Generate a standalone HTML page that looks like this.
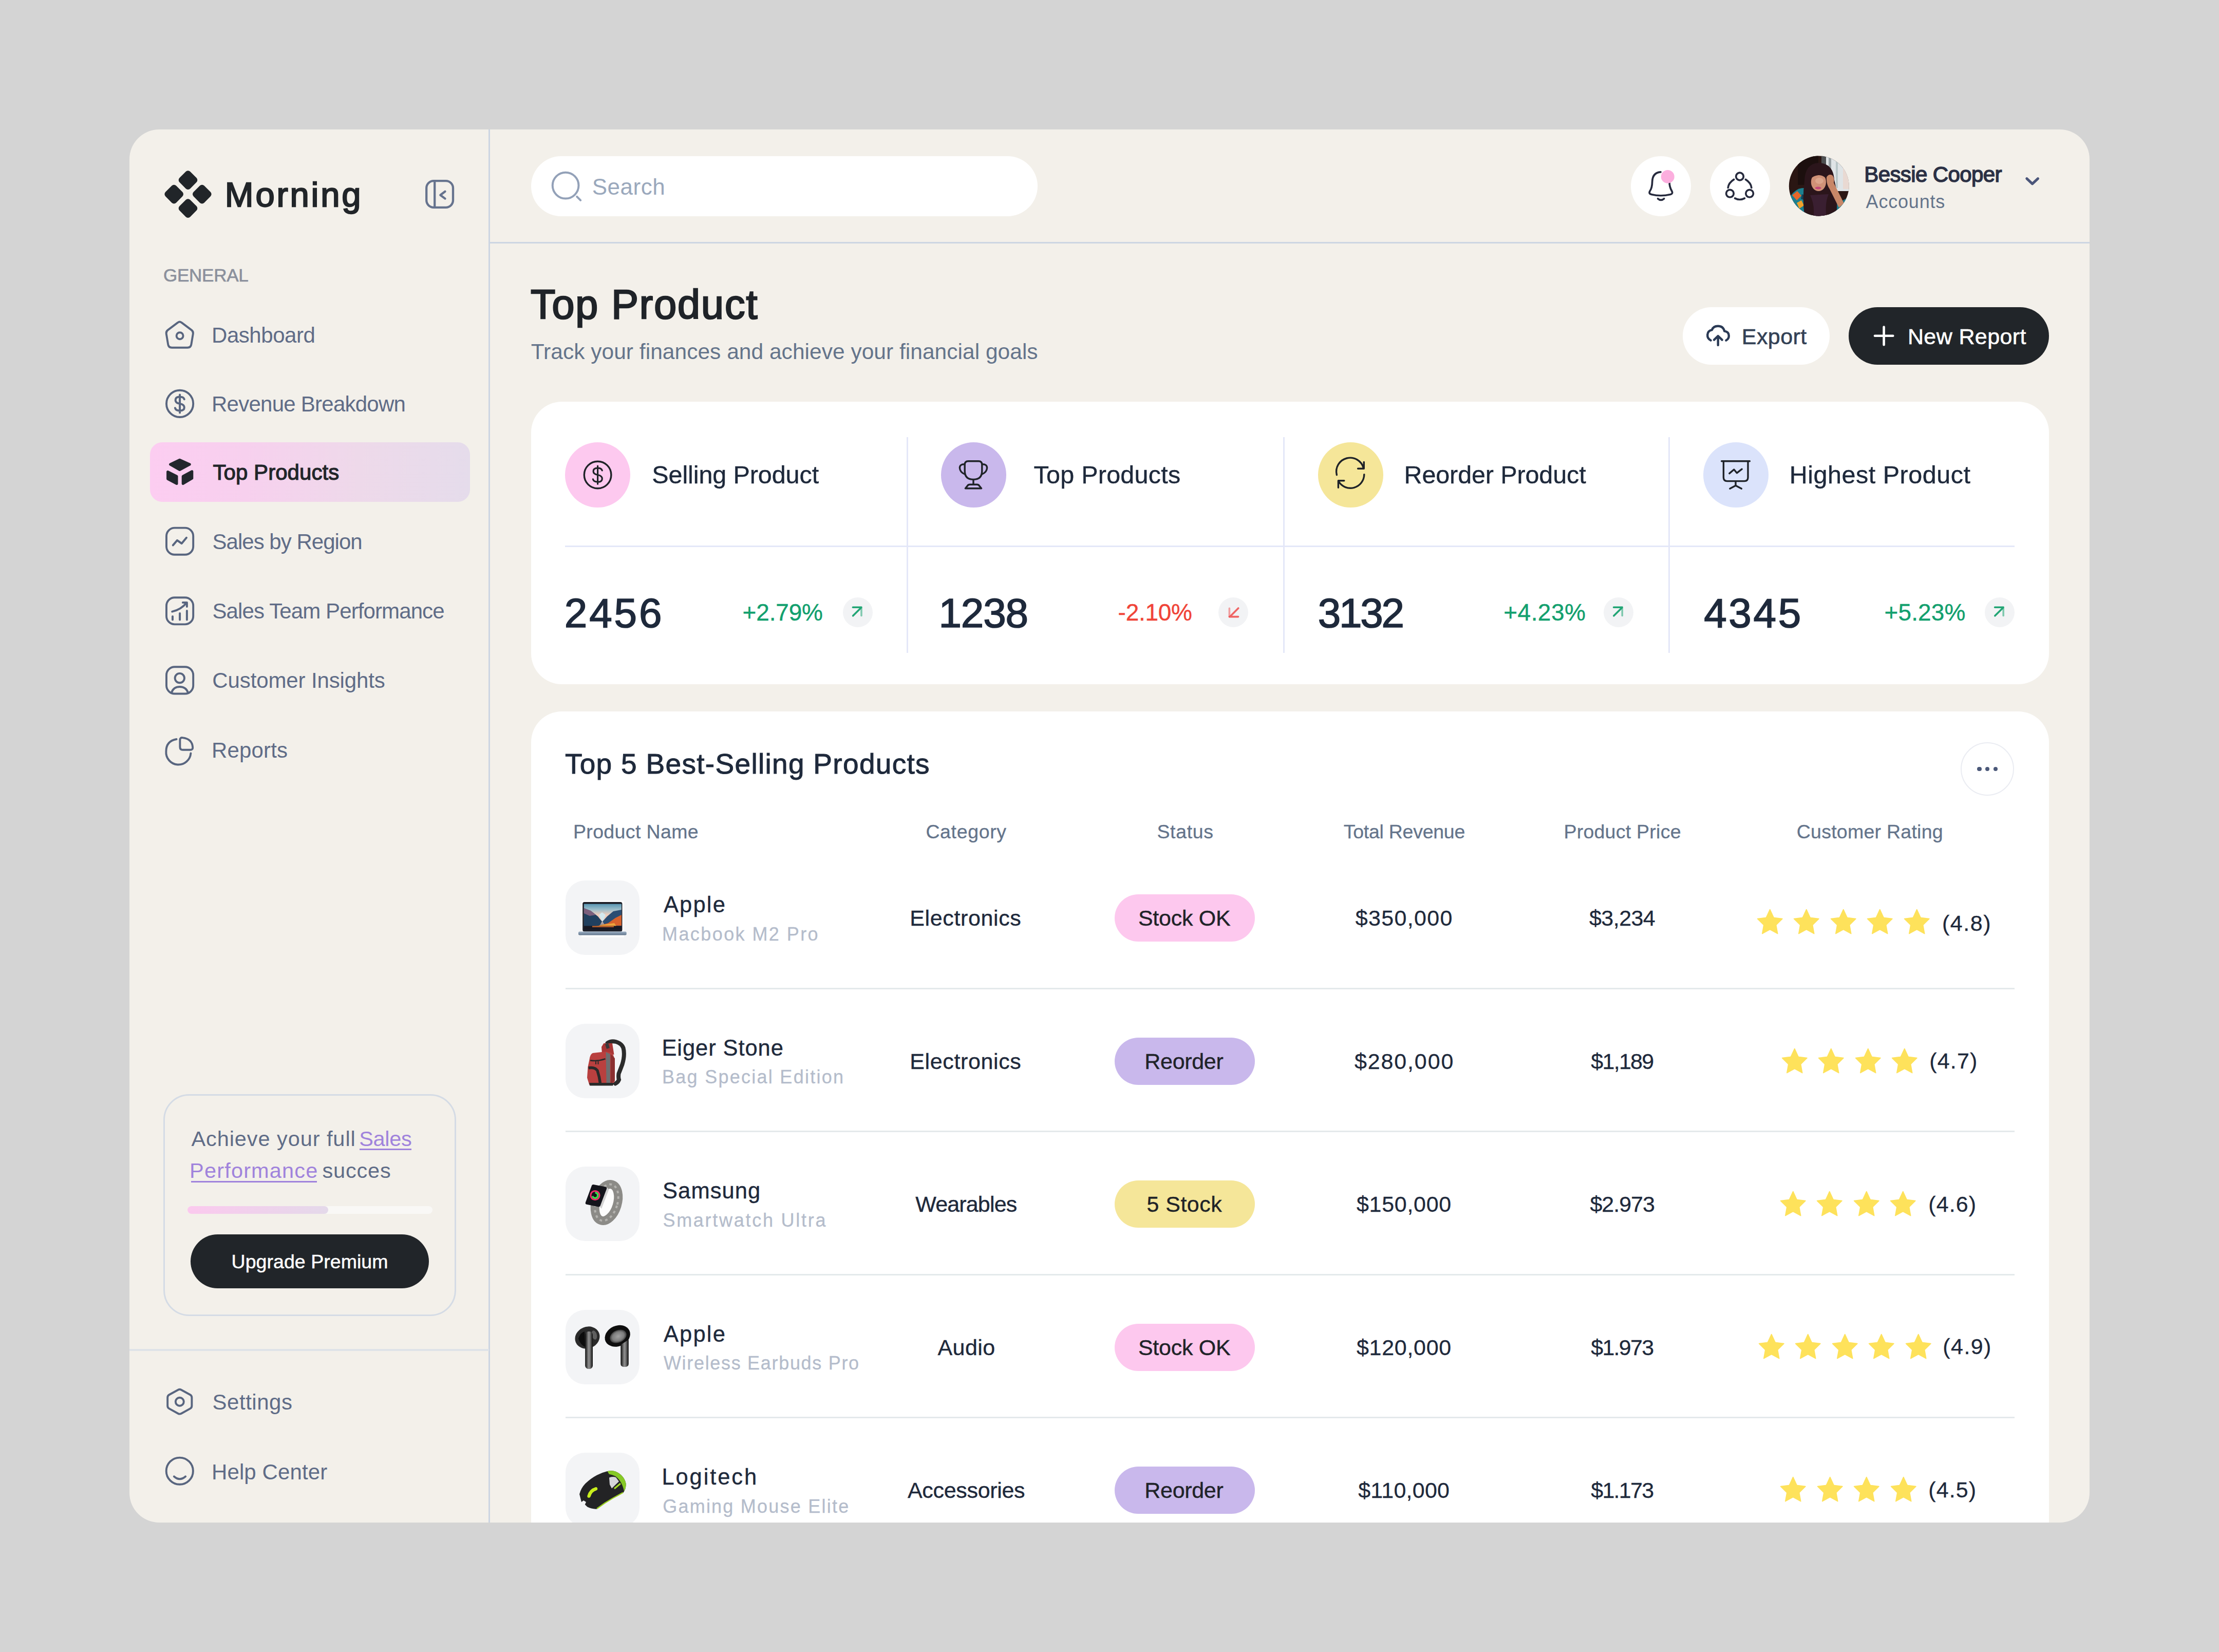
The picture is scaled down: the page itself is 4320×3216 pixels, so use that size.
<!DOCTYPE html>
<html><head><meta charset="utf-8"><title>Morning – Top Product</title>
<style>
html,body{margin:0;padding:0}
body{width:4320px;height:3216px;background:#d4d4d4;position:relative;overflow:hidden;font-family:"Liberation Sans",sans-serif}
.card{position:absolute;left:252px;top:252px;width:3816px;height:2712px;border-radius:58px;background:#f3f0ea;overflow:hidden}
.in{position:absolute;left:-252px;top:-252px;width:4320px;height:3216px}
.t{position:absolute;white-space:nowrap;line-height:1}
.a{position:absolute}
svg{position:absolute;overflow:visible}
</style></head><body>
<div class="card"><div class="in">
<div class="a" style="left:950.5px;top:252.0px;width:3.5px;height:2712.0px;background:#ccd5e2;"></div>
<div class="a" style="left:954.0px;top:470.5px;width:3114.0px;height:3.5px;background:#ccd5e2;"></div>
<div class="a" style="left:252.0px;top:2626.0px;width:700.0px;height:4.0px;background:#dfe3e8;"></div>
<div class="a" style="left:292.0px;top:861.0px;width:623.0px;height:116.0px;background:linear-gradient(90deg,#fccdf1 0%,#f7d0ee 30%,#eed9ea 65%,#e5dceb 100%);border-radius:24px;"></div>
<div class="a" style="left:318px;top:2129.5px;width:564px;height:426.5px;border:3px solid #d4dbe5;border-radius:50px"></div>
<div class="a" style="left:364.5px;top:2348.0px;width:477.2px;height:14.5px;background:#f9f8f6;border-radius:7.5px;"></div>
<div class="a" style="left:364.5px;top:2348.0px;width:274.9px;height:14.5px;background:linear-gradient(90deg,#fbc9ee,#e4d9ea);border-radius:7.5px;"></div>
<div class="a" style="left:371.4px;top:2403.2px;width:463.4px;height:105.3px;background:#212529;border-radius:53px;"></div>
<div class="a" style="left:700.0px;top:2236.0px;width:101.0px;height:2.6px;background:#a083dc;"></div>
<div class="a" style="left:371.5px;top:2299.0px;width:245.5px;height:2.6px;background:#a083dc;"></div>
<div class="a" style="left:1033.6px;top:303.8px;width:986.4px;height:117.4px;background:#fff;border-radius:59px;"></div>
<div class="a" style="left:3174.5px;top:304.1px;width:117.0px;height:117.0px;background:#fff;border-radius:58.5px;"></div>
<div class="a" style="left:3328.5px;top:304.1px;width:117.0px;height:117.0px;background:#fff;border-radius:58.5px;"></div>
<div class="a" style="left:3275.8px;top:598.3px;width:286.2px;height:111.3px;background:#fff;border-radius:56px;"></div>
<div class="a" style="left:3599.3px;top:598.3px;width:389.4px;height:111.3px;background:#212529;border-radius:56px;"></div>
<div class="a" style="left:1033.5px;top:781.6px;width:2955.1px;height:550.6px;background:#fff;border-radius:60px;"></div>
<div class="a" style="left:1100.1px;top:861.2px;width:127.0px;height:127.0px;background:#fdc9ef;border-radius:63.5px;"></div>
<div class="a" style="left:1831.5px;top:861.2px;width:127.0px;height:127.0px;background:#c9b8ec;border-radius:63.5px;"></div>
<div class="a" style="left:2565.8px;top:861.2px;width:127.0px;height:127.0px;background:#f5e699;border-radius:63.5px;"></div>
<div class="a" style="left:3315.8px;top:861.2px;width:127.0px;height:127.0px;background:#dbe3fb;border-radius:63.5px;"></div>
<div class="a" style="left:1764.9px;top:850.9px;width:3.0px;height:420.2px;background:#e4e7f8;"></div>
<div class="a" style="left:2497.9px;top:850.9px;width:3.0px;height:420.2px;background:#e4e7f8;"></div>
<div class="a" style="left:3247.7px;top:850.9px;width:3.0px;height:420.2px;background:#e4e7f8;"></div>
<div class="a" style="left:1100.0px;top:1061.9px;width:2822.0px;height:3.0px;background:#e4e7f8;"></div>
<div class="a" style="left:1640.8px;top:1163.0px;width:58.0px;height:58.0px;background:#f2f3f5;border-radius:29.0px;"></div>
<div class="a" style="left:2372.2px;top:1163.0px;width:58.0px;height:58.0px;background:#f2f3f5;border-radius:29.0px;"></div>
<div class="a" style="left:3122.0px;top:1163.0px;width:58.0px;height:58.0px;background:#f2f3f5;border-radius:29.0px;"></div>
<div class="a" style="left:3864.0px;top:1163.0px;width:58.0px;height:58.0px;background:#f2f3f5;border-radius:29.0px;"></div>
<div class="a" style="left:1033.5px;top:1384.5px;width:2955.2px;height:1715.5px;background:#fff;border-radius:60px;"></div>
<div class="a" style="left:3816.5px;top:1444.6px;width:100px;height:100px;border:2.5px solid #eaecf2;border-radius:60px"></div>
<div class="a" style="left:3849.2px;top:1492.5px;width:8.6px;height:8.6px;background:#4b5878;border-radius:4.3px;"></div>
<div class="a" style="left:3864.9px;top:1492.5px;width:8.6px;height:8.6px;background:#4b5878;border-radius:4.3px;"></div>
<div class="a" style="left:3880.7px;top:1492.5px;width:8.6px;height:8.6px;background:#4b5878;border-radius:4.3px;"></div>
<div class="a" style="left:1101.1px;top:1714.3px;width:143.8px;height:144.9px;background:#f3f4f6;border-radius:38px;"></div>
<div class="a" style="left:2170.3px;top:1741.3px;width:273.1px;height:91.9px;background:#fdc8ee;border-radius:46px;"></div>
<div class="a" style="left:1101.0px;top:1922.8px;width:2820.5px;height:3.0px;background:#e4e9eb;"></div>
<div class="a" style="left:1101.1px;top:1992.8px;width:143.8px;height:144.9px;background:#f3f4f6;border-radius:38px;"></div>
<div class="a" style="left:2170.3px;top:2019.8px;width:273.1px;height:91.9px;background:#c9b8ec;border-radius:46px;"></div>
<div class="a" style="left:1101.0px;top:2201.3px;width:2820.5px;height:3.0px;background:#e4e9eb;"></div>
<div class="a" style="left:1101.1px;top:2271.3px;width:143.8px;height:144.9px;background:#f3f4f6;border-radius:38px;"></div>
<div class="a" style="left:2170.3px;top:2298.3px;width:273.1px;height:91.9px;background:#f5e699;border-radius:46px;"></div>
<div class="a" style="left:1101.0px;top:2479.8px;width:2820.5px;height:3.0px;background:#e4e9eb;"></div>
<div class="a" style="left:1101.1px;top:2549.8px;width:143.8px;height:144.9px;background:#f3f4f6;border-radius:38px;"></div>
<div class="a" style="left:2170.3px;top:2576.8px;width:273.1px;height:91.9px;background:#fdc8ee;border-radius:46px;"></div>
<div class="a" style="left:1101.0px;top:2758.3px;width:2820.5px;height:3.0px;background:#e4e9eb;"></div>
<div class="a" style="left:1101.1px;top:2828.3px;width:143.8px;height:144.9px;background:#f3f4f6;border-radius:38px;"></div>
<div class="a" style="left:2170.3px;top:2855.3px;width:273.1px;height:91.9px;background:#c9b8ec;border-radius:46px;"></div>
<svg style="left:3420.9px;top:1770.4px" width="49.5" height="48" viewBox="1 1.3 22 21.9"><path d="M12 1.6 L15.1 8.3 Q15.3 8.8 15.9 8.9 L23 9.8 L17.8 14.9 Q17.4 15.3 17.5 15.8 L18.8 23 L12.5 19.5 Q12 19.2 11.5 19.5 L5.2 23 L6.5 15.8 Q6.6 15.3 6.2 14.9 L1 9.8 L8.1 8.9 Q8.7 8.8 8.9 8.3 Z" fill="#fee25b" stroke="#fee25b" stroke-width="0.8" stroke-linejoin="round"/></svg>
<svg style="left:3492.4px;top:1770.4px" width="49.5" height="48" viewBox="1 1.3 22 21.9"><path d="M12 1.6 L15.1 8.3 Q15.3 8.8 15.9 8.9 L23 9.8 L17.8 14.9 Q17.4 15.3 17.5 15.8 L18.8 23 L12.5 19.5 Q12 19.2 11.5 19.5 L5.2 23 L6.5 15.8 Q6.6 15.3 6.2 14.9 L1 9.8 L8.1 8.9 Q8.7 8.8 8.9 8.3 Z" fill="#fee25b" stroke="#fee25b" stroke-width="0.8" stroke-linejoin="round"/></svg>
<svg style="left:3563.9px;top:1770.4px" width="49.5" height="48" viewBox="1 1.3 22 21.9"><path d="M12 1.6 L15.1 8.3 Q15.3 8.8 15.9 8.9 L23 9.8 L17.8 14.9 Q17.4 15.3 17.5 15.8 L18.8 23 L12.5 19.5 Q12 19.2 11.5 19.5 L5.2 23 L6.5 15.8 Q6.6 15.3 6.2 14.9 L1 9.8 L8.1 8.9 Q8.7 8.8 8.9 8.3 Z" fill="#fee25b" stroke="#fee25b" stroke-width="0.8" stroke-linejoin="round"/></svg>
<svg style="left:3635.4px;top:1770.4px" width="49.5" height="48" viewBox="1 1.3 22 21.9"><path d="M12 1.6 L15.1 8.3 Q15.3 8.8 15.9 8.9 L23 9.8 L17.8 14.9 Q17.4 15.3 17.5 15.8 L18.8 23 L12.5 19.5 Q12 19.2 11.5 19.5 L5.2 23 L6.5 15.8 Q6.6 15.3 6.2 14.9 L1 9.8 L8.1 8.9 Q8.7 8.8 8.9 8.3 Z" fill="#fee25b" stroke="#fee25b" stroke-width="0.8" stroke-linejoin="round"/></svg>
<svg style="left:3706.9px;top:1770.4px" width="49.5" height="48" viewBox="1 1.3 22 21.9"><path d="M12 1.6 L15.1 8.3 Q15.3 8.8 15.9 8.9 L23 9.8 L17.8 14.9 Q17.4 15.3 17.5 15.8 L18.8 23 L12.5 19.5 Q12 19.2 11.5 19.5 L5.2 23 L6.5 15.8 Q6.6 15.3 6.2 14.9 L1 9.8 L8.1 8.9 Q8.7 8.8 8.9 8.3 Z" fill="#fee25b" stroke="#fee25b" stroke-width="0.8" stroke-linejoin="round"/></svg>
<svg style="left:3468.6px;top:2040.6px" width="49.5" height="48" viewBox="1 1.3 22 21.9"><path d="M12 1.6 L15.1 8.3 Q15.3 8.8 15.9 8.9 L23 9.8 L17.8 14.9 Q17.4 15.3 17.5 15.8 L18.8 23 L12.5 19.5 Q12 19.2 11.5 19.5 L5.2 23 L6.5 15.8 Q6.6 15.3 6.2 14.9 L1 9.8 L8.1 8.9 Q8.7 8.8 8.9 8.3 Z" fill="#fee25b" stroke="#fee25b" stroke-width="0.8" stroke-linejoin="round"/></svg>
<svg style="left:3540.1px;top:2040.6px" width="49.5" height="48" viewBox="1 1.3 22 21.9"><path d="M12 1.6 L15.1 8.3 Q15.3 8.8 15.9 8.9 L23 9.8 L17.8 14.9 Q17.4 15.3 17.5 15.8 L18.8 23 L12.5 19.5 Q12 19.2 11.5 19.5 L5.2 23 L6.5 15.8 Q6.6 15.3 6.2 14.9 L1 9.8 L8.1 8.9 Q8.7 8.8 8.9 8.3 Z" fill="#fee25b" stroke="#fee25b" stroke-width="0.8" stroke-linejoin="round"/></svg>
<svg style="left:3611.6px;top:2040.6px" width="49.5" height="48" viewBox="1 1.3 22 21.9"><path d="M12 1.6 L15.1 8.3 Q15.3 8.8 15.9 8.9 L23 9.8 L17.8 14.9 Q17.4 15.3 17.5 15.8 L18.8 23 L12.5 19.5 Q12 19.2 11.5 19.5 L5.2 23 L6.5 15.8 Q6.6 15.3 6.2 14.9 L1 9.8 L8.1 8.9 Q8.7 8.8 8.9 8.3 Z" fill="#fee25b" stroke="#fee25b" stroke-width="0.8" stroke-linejoin="round"/></svg>
<svg style="left:3683.1px;top:2040.6px" width="49.5" height="48" viewBox="1 1.3 22 21.9"><path d="M12 1.6 L15.1 8.3 Q15.3 8.8 15.9 8.9 L23 9.8 L17.8 14.9 Q17.4 15.3 17.5 15.8 L18.8 23 L12.5 19.5 Q12 19.2 11.5 19.5 L5.2 23 L6.5 15.8 Q6.6 15.3 6.2 14.9 L1 9.8 L8.1 8.9 Q8.7 8.8 8.9 8.3 Z" fill="#fee25b" stroke="#fee25b" stroke-width="0.8" stroke-linejoin="round"/></svg>
<svg style="left:3465.9px;top:2319.1px" width="49.5" height="48" viewBox="1 1.3 22 21.9"><path d="M12 1.6 L15.1 8.3 Q15.3 8.8 15.9 8.9 L23 9.8 L17.8 14.9 Q17.4 15.3 17.5 15.8 L18.8 23 L12.5 19.5 Q12 19.2 11.5 19.5 L5.2 23 L6.5 15.8 Q6.6 15.3 6.2 14.9 L1 9.8 L8.1 8.9 Q8.7 8.8 8.9 8.3 Z" fill="#fee25b" stroke="#fee25b" stroke-width="0.8" stroke-linejoin="round"/></svg>
<svg style="left:3537.4px;top:2319.1px" width="49.5" height="48" viewBox="1 1.3 22 21.9"><path d="M12 1.6 L15.1 8.3 Q15.3 8.8 15.9 8.9 L23 9.8 L17.8 14.9 Q17.4 15.3 17.5 15.8 L18.8 23 L12.5 19.5 Q12 19.2 11.5 19.5 L5.2 23 L6.5 15.8 Q6.6 15.3 6.2 14.9 L1 9.8 L8.1 8.9 Q8.7 8.8 8.9 8.3 Z" fill="#fee25b" stroke="#fee25b" stroke-width="0.8" stroke-linejoin="round"/></svg>
<svg style="left:3608.9px;top:2319.1px" width="49.5" height="48" viewBox="1 1.3 22 21.9"><path d="M12 1.6 L15.1 8.3 Q15.3 8.8 15.9 8.9 L23 9.8 L17.8 14.9 Q17.4 15.3 17.5 15.8 L18.8 23 L12.5 19.5 Q12 19.2 11.5 19.5 L5.2 23 L6.5 15.8 Q6.6 15.3 6.2 14.9 L1 9.8 L8.1 8.9 Q8.7 8.8 8.9 8.3 Z" fill="#fee25b" stroke="#fee25b" stroke-width="0.8" stroke-linejoin="round"/></svg>
<svg style="left:3680.4px;top:2319.1px" width="49.5" height="48" viewBox="1 1.3 22 21.9"><path d="M12 1.6 L15.1 8.3 Q15.3 8.8 15.9 8.9 L23 9.8 L17.8 14.9 Q17.4 15.3 17.5 15.8 L18.8 23 L12.5 19.5 Q12 19.2 11.5 19.5 L5.2 23 L6.5 15.8 Q6.6 15.3 6.2 14.9 L1 9.8 L8.1 8.9 Q8.7 8.8 8.9 8.3 Z" fill="#fee25b" stroke="#fee25b" stroke-width="0.8" stroke-linejoin="round"/></svg>
<svg style="left:3423.6px;top:2597.0px" width="49.5" height="48" viewBox="1 1.3 22 21.9"><path d="M12 1.6 L15.1 8.3 Q15.3 8.8 15.9 8.9 L23 9.8 L17.8 14.9 Q17.4 15.3 17.5 15.8 L18.8 23 L12.5 19.5 Q12 19.2 11.5 19.5 L5.2 23 L6.5 15.8 Q6.6 15.3 6.2 14.9 L1 9.8 L8.1 8.9 Q8.7 8.8 8.9 8.3 Z" fill="#fee25b" stroke="#fee25b" stroke-width="0.8" stroke-linejoin="round"/></svg>
<svg style="left:3495.1px;top:2597.0px" width="49.5" height="48" viewBox="1 1.3 22 21.9"><path d="M12 1.6 L15.1 8.3 Q15.3 8.8 15.9 8.9 L23 9.8 L17.8 14.9 Q17.4 15.3 17.5 15.8 L18.8 23 L12.5 19.5 Q12 19.2 11.5 19.5 L5.2 23 L6.5 15.8 Q6.6 15.3 6.2 14.9 L1 9.8 L8.1 8.9 Q8.7 8.8 8.9 8.3 Z" fill="#fee25b" stroke="#fee25b" stroke-width="0.8" stroke-linejoin="round"/></svg>
<svg style="left:3566.6px;top:2597.0px" width="49.5" height="48" viewBox="1 1.3 22 21.9"><path d="M12 1.6 L15.1 8.3 Q15.3 8.8 15.9 8.9 L23 9.8 L17.8 14.9 Q17.4 15.3 17.5 15.8 L18.8 23 L12.5 19.5 Q12 19.2 11.5 19.5 L5.2 23 L6.5 15.8 Q6.6 15.3 6.2 14.9 L1 9.8 L8.1 8.9 Q8.7 8.8 8.9 8.3 Z" fill="#fee25b" stroke="#fee25b" stroke-width="0.8" stroke-linejoin="round"/></svg>
<svg style="left:3638.1px;top:2597.0px" width="49.5" height="48" viewBox="1 1.3 22 21.9"><path d="M12 1.6 L15.1 8.3 Q15.3 8.8 15.9 8.9 L23 9.8 L17.8 14.9 Q17.4 15.3 17.5 15.8 L18.8 23 L12.5 19.5 Q12 19.2 11.5 19.5 L5.2 23 L6.5 15.8 Q6.6 15.3 6.2 14.9 L1 9.8 L8.1 8.9 Q8.7 8.8 8.9 8.3 Z" fill="#fee25b" stroke="#fee25b" stroke-width="0.8" stroke-linejoin="round"/></svg>
<svg style="left:3709.6px;top:2597.0px" width="49.5" height="48" viewBox="1 1.3 22 21.9"><path d="M12 1.6 L15.1 8.3 Q15.3 8.8 15.9 8.9 L23 9.8 L17.8 14.9 Q17.4 15.3 17.5 15.8 L18.8 23 L12.5 19.5 Q12 19.2 11.5 19.5 L5.2 23 L6.5 15.8 Q6.6 15.3 6.2 14.9 L1 9.8 L8.1 8.9 Q8.7 8.8 8.9 8.3 Z" fill="#fee25b" stroke="#fee25b" stroke-width="0.8" stroke-linejoin="round"/></svg>
<svg style="left:3466.0px;top:2875.3px" width="49.5" height="48" viewBox="1 1.3 22 21.9"><path d="M12 1.6 L15.1 8.3 Q15.3 8.8 15.9 8.9 L23 9.8 L17.8 14.9 Q17.4 15.3 17.5 15.8 L18.8 23 L12.5 19.5 Q12 19.2 11.5 19.5 L5.2 23 L6.5 15.8 Q6.6 15.3 6.2 14.9 L1 9.8 L8.1 8.9 Q8.7 8.8 8.9 8.3 Z" fill="#fee25b" stroke="#fee25b" stroke-width="0.8" stroke-linejoin="round"/></svg>
<svg style="left:3537.5px;top:2875.3px" width="49.5" height="48" viewBox="1 1.3 22 21.9"><path d="M12 1.6 L15.1 8.3 Q15.3 8.8 15.9 8.9 L23 9.8 L17.8 14.9 Q17.4 15.3 17.5 15.8 L18.8 23 L12.5 19.5 Q12 19.2 11.5 19.5 L5.2 23 L6.5 15.8 Q6.6 15.3 6.2 14.9 L1 9.8 L8.1 8.9 Q8.7 8.8 8.9 8.3 Z" fill="#fee25b" stroke="#fee25b" stroke-width="0.8" stroke-linejoin="round"/></svg>
<svg style="left:3609.0px;top:2875.3px" width="49.5" height="48" viewBox="1 1.3 22 21.9"><path d="M12 1.6 L15.1 8.3 Q15.3 8.8 15.9 8.9 L23 9.8 L17.8 14.9 Q17.4 15.3 17.5 15.8 L18.8 23 L12.5 19.5 Q12 19.2 11.5 19.5 L5.2 23 L6.5 15.8 Q6.6 15.3 6.2 14.9 L1 9.8 L8.1 8.9 Q8.7 8.8 8.9 8.3 Z" fill="#fee25b" stroke="#fee25b" stroke-width="0.8" stroke-linejoin="round"/></svg>
<svg style="left:3680.5px;top:2875.3px" width="49.5" height="48" viewBox="1 1.3 22 21.9"><path d="M12 1.6 L15.1 8.3 Q15.3 8.8 15.9 8.9 L23 9.8 L17.8 14.9 Q17.4 15.3 17.5 15.8 L18.8 23 L12.5 19.5 Q12 19.2 11.5 19.5 L5.2 23 L6.5 15.8 Q6.6 15.3 6.2 14.9 L1 9.8 L8.1 8.9 Q8.7 8.8 8.9 8.3 Z" fill="#fee25b" stroke="#fee25b" stroke-width="0.8" stroke-linejoin="round"/></svg>
<svg style="left:0;top:0" width="4320" height="3216" viewBox="0 0 4320 3216" fill="none" stroke-linecap="round" stroke-linejoin="round">
<!-- logo -->
<g fill="#212529"><rect x="351.3" y="335.9" width="29.4" height="29.4" rx="6" transform="rotate(45 366 350.6)"/><rect x="324.0" y="363.4" width="29.4" height="29.4" rx="6" transform="rotate(45 338.7 378.1)"/><rect x="378.6" y="363.4" width="29.4" height="29.4" rx="6" transform="rotate(45 393.3 378.1)"/><rect x="351.3" y="390.9" width="29.4" height="29.4" rx="6" transform="rotate(45 366 405.6)"/></g>
<!-- collapse -->
<g stroke="#66738e" stroke-width="4.3">
<rect x="830.2" y="352.2" width="51.8" height="51.6" rx="14"/>
<path d="M846.2 352.5V403.5M866.5 372.7L857.3 379.7L866.5 386.6"/>
</g>
<!-- nav icons -->
<g stroke="#58657f" stroke-width="3.9">
<!-- dashboard -->
<path d="M346.2 627.9Q349.8 625 353.4 627.9L373 642.6Q376.4 645.2 375.9 649.4L372.4 670.4Q371.5 676.7 365.1 676.7H334.5Q328.1 676.7 327.2 670.4L323.7 649.4Q323.2 645.2 326.6 642.6Z"/>
<circle cx="350.1" cy="653.7" r="6.5"/>
<!-- revenue -->
<circle cx="350.1" cy="785.9" r="26.1"/>
<path d="M358.8 777.3Q357.3 772.6 350.1 772.6Q341.6 772.6 341.6 778.9Q341.6 784.3 350.1 785.9Q358.8 787.5 358.8 793.3Q358.8 799.6 350.1 799.6Q342.3 799.6 340.9 794.3M350.1 768.6V803.6" stroke-width="4"/>
<!-- sales by region -->
<rect x="324" y="1027.6" width="52.2" height="52.2" rx="16"/>
<path d="M336.8 1061.4L345 1051.8L353.7 1058L363 1046.8" stroke-width="4"/>
<!-- sales team -->
<rect x="324" y="1163.2" width="52.2" height="52.2" rx="16"/>
<path d="M336 1200V1206.5M350.1 1194V1206.5M363.9 1189V1206.5M335.2 1190.6Q352 1187 362.8 1174M355.9 1172.9H363.9V1180.9" stroke-width="4"/>
<!-- customer -->
<rect x="324" y="1298.3" width="52.2" height="52.2" rx="16"/>
<circle cx="349.8" cy="1320.1" r="9.2"/>
<path d="M334.2 1347.6Q338 1337 349.8 1337Q361.6 1337 365.8 1347.6"/>
<!-- reports -->
<path d="M343.6 1439Q323.4 1442.6 323.4 1462.6A24 24 0 0 0 371.4 1466.4"/>
<path d="M350.4 1440.5Q350.4 1435.6 355.3 1436.1Q374 1438.4 375.2 1454.6Q375.6 1459.8 370.4 1459.8H356Q350.4 1459.8 350.4 1454.2Z"/>
<!-- settings -->
<path d="M346.6 2705.7Q349.8 2703.9 353 2705.7L370.3 2715.3Q373.4 2717.1 373.4 2720.7V2736.7Q373.4 2740.3 370.3 2742.1L353 2751.7Q349.8 2753.5 346.6 2751.7L329.3 2742.1Q326.2 2740.3 326.2 2736.7V2720.7Q326.2 2717.1 329.3 2715.3Z"/>
<circle cx="349.8" cy="2728.7" r="8"/>
<!-- help -->
<circle cx="349.8" cy="2863.7" r="26.1"/>
<path d="M338.8 2874.3Q349.8 2884.2 361.2 2874.3"/>
</g>
<!-- cube (active) -->
<g fill="#23272d" stroke="#23272d" stroke-width="5">
<path d="M349.8 895.2L369.2 904.1L349.8 914.6L331.6 904.1Z"/>
<path d="M326.6 918.4L344 927.2V941.6L326.6 932.2Z"/>
<path d="M356.2 927.2L373.8 917.8V931.2L356.2 941.6Z"/>
</g>
<!-- search -->
<g stroke="#93a1b8" stroke-width="4">
<circle cx="1101.1" cy="361.1" r="25.4"/><path d="M1123.2 382.8L1130.2 389.8"/>
</g>
<!-- bell -->
<g stroke="#262a3d" stroke-width="3.7">
<path d="M3233 334.8Q3217 336 3216.6 354Q3216.4 366 3212 372Q3209 377 3215 378.5Q3233 383 3252 378.5Q3257.6 377 3254.8 372Q3250 364 3250 354"/>
<path d="M3227.6 386.8Q3233.5 392 3239.6 386.8"/>
</g>
<circle cx="3246.7" cy="343.9" r="13" fill="#fcaede"/>
<!-- share nodes -->
<g stroke="#262a3d" stroke-width="3.7">
<circle cx="3387" cy="343.5" r="7.3"/><circle cx="3367.9" cy="376.7" r="7.3"/><circle cx="3406.1" cy="376.7" r="7.3"/>
<path d="M3375.6 349.4Q3365.2 356 3364.2 365.4M3398.4 349.4Q3408.800 356 3409.800 365.4M3377.600 386Q3387 391 3396.400 386"/>
</g>
<!-- chevron -->
<path d="M3945.8 347.6L3956.6 357.9L3967.5 347.6" stroke="#4b567a" stroke-width="5"/>
<!-- export icon -->
<g stroke="#2a3a55" stroke-width="4.4">
<path d="M3330.6 662.6Q3323.6 659 3324.2 651.6Q3325 643.6 3332.8 642.4Q3335.4 634.8 3344.6 634.8Q3354.6 634.8 3357.2 644.6Q3365.6 645.6 3365.8 653.6Q3366 659.4 3360.4 662.6"/>
<path d="M3344.7 671.9V654.6M3337 661.6L3344.7 654L3352.6 661.6"/>
</g>
<!-- plus -->
<path d="M3650 653.8H3685.3M3667.6 636.6V671.3" stroke="#fff" stroke-width="4.6"/>
<!-- stat: dollar -->
<g stroke="#1f2328" stroke-width="3.4">
<circle cx="1163.6" cy="924.5" r="26.3"/>
<path d="M1172.3 915.9Q1170.8 911.2 1163.6 911.2Q1155.1 911.2 1155.1 917.5Q1155.1 922.9 1163.6 924.5Q1172.3 926.1 1172.3 931.9Q1172.3 938.2 1163.6 938.2Q1155.8 938.2 1154.4 932.9M1163.6 907.2V942.2" stroke-width="3.2"/>
<!-- trophy -->
<path d="M1885 897.8H1905Q1911.8 897.8 1911.8 904.6V917Q1911.8 933.4 1895 933.4Q1878.2 933.4 1878.2 917V904.6Q1878.2 897.8 1885 897.8Z"/>
<path d="M1877.8 903.8Q1868.2 903.6 1868.4 911Q1869 919.6 1878 922.8M1912.2 903.8Q1921.8 903.6 1921.6 911Q1921 919.6 1912 922.8"/>
<path d="M1895 933.6V942M1888 943.2H1902Q1905 943.2 1906.4 945.6L1910.6 950.8H1879.4L1883.6 945.6Q1885 943.2 1888 943.2Z"/>
<!-- refresh -->
<path d="M2602.4 924.6A26.8 26.8 0 0 1 2654.6 911.6M2655.3 899.4V912.2H2643.6"/>
<path d="M2655.8 923.6A26.8 26.8 0 0 1 2606 937.2M2616.8 935.8H2605.4V949.2"/>
<!-- presentation -->
<path d="M3351.6 897.8H3406.4M3355.4 898V929.6Q3355.4 936.6 3362.4 936.6H3396Q3403 936.6 3403 929.6V898M3379 936.8V945.3M3367.8 951.2L3379 945.3L3390.4 951.2"/>
<path d="M3366.8 921.6L3375.8 914L3381.3 920.8L3391.2 913.2" stroke-width="3.4"/>
</g>
<!-- stat arrows -->
<g stroke="#22a575" stroke-width="3.6">
<path d="M1660.6 1198.8L1676 1183.4M1660.4 1182.3H1676.8"/><path d="M1677 1182.3V1198.4" opacity=".55"/>
<path d="M3141.8 1198.8L3157.2 1183.4M3141.6 1182.3H3158"/><path d="M3158.2 1182.3V1198.4" opacity=".55"/>
<path d="M3883.8 1198.8L3899.2 1183.4M3883.6 1182.3H3900"/><path d="M3900.2 1182.3V1198.4" opacity=".55"/>
</g>
<g stroke="#ee4b4b" stroke-width="3.6">
<path d="M2410.8 1184L2395.4 1199.6M2393.4 1200.6H2410.6" opacity=".85"/><path d="M2393.4 1184.4V1200.6" opacity=".5"/>
</g>
</svg>

<svg style="left:0;top:0" width="4320" height="3216" viewBox="0 0 4320 3216">
<defs>
<clipPath id="av"><circle cx="3541.2" cy="362" r="58.4"/></clipPath>
<linearGradient id="sky" x1="0" y1="0" x2="0" y2="1"><stop offset="0" stop-color="#5a96b2"/><stop offset=".22" stop-color="#9dbfcb"/><stop offset=".42" stop-color="#f0cdbb"/><stop offset=".62" stop-color="#e9d3c8"/><stop offset="1" stop-color="#2c3a50"/></linearGradient>
<linearGradient id="base" x1="0" y1="0" x2="0" y2="1"><stop offset="0" stop-color="#9fb2c6"/><stop offset="1" stop-color="#5f748b"/></linearGradient>
<linearGradient id="stem" x1="0" y1="0" x2="1" y2="0"><stop offset="0" stop-color="#0c0c0c"/><stop offset=".45" stop-color="#8e8e8e"/><stop offset=".62" stop-color="#7a7a7a"/><stop offset="1" stop-color="#0c0c0c"/></linearGradient>
<radialGradient id="bud"><stop offset="0" stop-color="#a2a2a2"/><stop offset=".7" stop-color="#7d7d7d"/><stop offset="1" stop-color="#3a3a3a"/></radialGradient>
<clipPath id="tb5"><rect x="1033" y="2800" width="2960" height="164"/></clipPath>
</defs>
<!-- avatar -->
<g clip-path="url(#av)">
<rect x="3480" y="300" width="125" height="125" fill="#2a1613"/>
<rect x="3500" y="300" width="40" height="60" fill="#1c0f0e"/>
<rect x="3546" y="300" width="62" height="72" fill="#dfe4e6"/>
<rect x="3546" y="300" width="9" height="58" fill="#4d4f50"/><rect x="3560" y="300" width="5" height="50" fill="#9aa3a6"/><rect x="3574" y="306" width="4" height="60" fill="#b9c6c8"/><rect x="3588" y="318" width="14" height="50" fill="#e9d9d2"/>
<path d="M3480 392Q3492 366 3512 366L3524 372L3528 425H3480Z" fill="#1c7f8f"/>
<path d="M3489 380l10-8 8 9-9 9Z" fill="#e7672a"/><path d="M3498 395l9-5 5 10-9 6Z" fill="#f0a12c"/><path d="M3486 400l8 2 2 12-10 2Z" fill="#d9502a"/><path d="M3508 378l8 3-2 9-8-3Z" fill="#143f55"/>
<path d="M3566 402L3606 380V425H3556Z" fill="#1b7a8b"/>
<path d="M3541 317Q3514 318 3513 352Q3508 392 3514 425H3574Q3580 384 3571 350Q3569 318 3541 317Z" fill="#2b151b"/>
<path d="M3524 380Q3534 400 3530 425H3556Q3552 396 3560 378Z" fill="#3a1f31"/>
<ellipse cx="3540.4" cy="354.5" rx="14.6" ry="17.6" fill="#cf9177"/>
<path d="M3527 346Q3531 332 3546 333Q3556 336 3556 348Q3548 340 3540 341Q3532 342 3527 346Z" fill="#2b151b"/>
<ellipse cx="3542" cy="352" rx="8" ry="6" fill="#dba58c"/>
<path d="M3556 345Q3560 338 3567 341Q3572 346 3570 356L3590 396L3580 404L3562 368Q3555 358 3556 345Z" fill="#c88768"/>
<ellipse cx="3539.6" cy="366" rx="6" ry="2.6" fill="#c2477a"/>
</g>
<!-- laptop -->
<rect x="1132" y="1753.5" width="82.6" height="71" fill="#fdfdfe"/>
<rect x="1134.2" y="1756.1" width="77.2" height="57.4" rx="3.5" fill="#1b1c24"/>
<rect x="1136.8" y="1759.7" width="73.1" height="50.6" fill="url(#sky)"/>
<path d="M1136.8 1768L1150 1773L1164 1784L1172 1794L1162 1810.300H1136.8Z" fill="#21405f"/>
<path d="M1136.8 1768L1150 1773L1160 1781L1148 1783L1136.8 1778Z" fill="#7c5f7c"/>
<path d="M1209.900 1771L1194 1774L1182 1784L1173 1794L1184 1810.300H1209.900Z" fill="#2a4d72"/>
<path d="M1166 1781L1172 1776L1179 1781L1173 1794Z" fill="#d4e9ee"/>
<path d="M1209.900 1781L1198 1787L1184 1797L1166 1802H1209.900Z" fill="#d8622c"/>
<path d="M1196 1797L1175 1800L1160 1803H1200Z" fill="#eda33c"/>
<rect x="1136.8" y="1802.500" width="73.1" height="7.8" fill="#191924"/>
<rect x="1153" y="1802.500" width="42" height="2.600" fill="#b85f2c"/>
<rect x="1126" y="1813.5" width="93.7" height="7" rx="2.500" fill="url(#base)"/>
<!-- backpack -->
<path d="M1182.600 2030.500Q1190 2025.500 1199 2028Q1210 2031 1213.500 2040Q1217 2054 1211.500 2072Q1207 2084 1204.500 2090Q1203.500 2098 1205 2102Q1203 2107 1198 2109.500" fill="none" stroke="#2b2b2b" stroke-width="8" stroke-linecap="round"/>
<path d="M1171 2038L1175.400 2031L1192 2031L1195.500 2053L1172 2051Z" fill="#a93636"/>
<path d="M1178 2033L1184 2030L1187 2040L1181 2042Z" fill="#3a3a3c"/>
<path d="M1147.600 2062Q1149 2052 1154 2050L1178.500 2047.300Q1190 2048 1193 2052L1197 2062V2104L1193 2112.700H1147.600L1143 2098L1144.500 2077Z" fill="#b9403f"/>
<path d="M1188.800 2052L1197 2060.300V2103.500L1188.800 2110Z" fill="#8b2f30"/>
<path d="M1179.500 2047.900L1187.800 2052V2110.700H1180.600Z" fill="#6e6e70"/>
<path d="M1149.200 2064.400Q1164 2066.500 1178.500 2061.300" fill="none" stroke="#2a2a2a" stroke-width="2.600"/>
<path d="M1160 2066V2072M1164.500 2066V2072" stroke="#2a2a2a" stroke-width="2"/>
<path d="M1145.600 2079Q1158 2077 1163 2084Q1167 2096 1168.500 2109" fill="none" stroke="#2a2a2a" stroke-width="5.500"/>
<path d="M1147 2108H1196L1193 2113.500H1148.500Z" fill="#2a2a2a"/>
<!-- watch -->
<ellipse cx="1181" cy="2341" rx="21" ry="36.500" transform="rotate(17 1181 2341)" fill="#fdfdfd" stroke="#8c8b87" stroke-width="17"/>
<ellipse cx="1181" cy="2341" rx="21" ry="36.500" transform="rotate(17 1181 2341)" fill="none" stroke="#b4b3af" stroke-width="4" stroke-dasharray="5 6"/>
<path d="M1181.500 2311.500L1185.500 2315.500L1171 2353L1167.200 2349Z" fill="#d2d2d2"/>
<path d="M1155.500 2306L1179 2310.500Q1182 2311.500 1181 2314.500L1168.500 2347.500Q1167 2350 1164 2349.300L1141.500 2344.500Q1139 2343.500 1140 2340.500L1152 2308Q1153 2305.500 1155.500 2306Z" fill="#14141b"/>
<circle cx="1158.500" cy="2327" r="8.600" fill="none" stroke="#ee2f6a" stroke-width="3"/>
<path d="M1158.500 2321.700A5.300 5.300 0 1 1 1153.400 2328.500" fill="none" stroke="#35e34c" stroke-width="3.600"/>
<!-- earbuds -->
<ellipse cx="1143.500" cy="2603.900" rx="24.500" ry="21" transform="rotate(-22 1143.500 2603.900)" fill="#2a2a2a"/>
<path d="M1126 2606Q1130 2594 1138 2592L1139 2622Q1130 2618 1126 2606Z" fill="#0c0c0c"/>
<ellipse cx="1157" cy="2599" rx="5" ry="9" transform="rotate(-15 1157 2599)" fill="#5f5f5f"/>
<rect x="1139.200" y="2592" width="14.800" height="73" rx="6.500" fill="url(#stem)"/>
<ellipse cx="1202.200" cy="2600.800" rx="25.500" ry="20" transform="rotate(-24 1202.200 2600.800)" fill="#0e0e0e"/>
<ellipse cx="1203.500" cy="2601.500" rx="17" ry="12" transform="rotate(-24 1203.500 2601.500)" fill="url(#bud)"/>
<path d="M1208.300 2618L1223.800 2608V2655Q1223.800 2661 1216 2661Q1208.300 2661 1208.300 2655Z" fill="url(#stem)"/>
<!-- mouse -->
<g clip-path="url(#tb5)">
<path d="M1128.100 2908.800Q1131 2897 1139.400 2888.200Q1150 2878 1162 2871.700Q1172 2866.500 1182.600 2864Q1191 2862.500 1198 2864.500Q1206 2867.500 1211.400 2873.800Q1217 2880 1218.600 2888.200Q1219 2898 1213.500 2905.700Q1204 2912 1192.900 2917L1177.500 2926.300L1162 2937.600Q1152 2938 1143.500 2933.500L1138.800 2929L1141 2924L1136 2921L1132 2924Z" fill="#232325"/>
<path d="M1182.600 2864Q1191 2862.500 1198 2864.500Q1206 2867.500 1211.400 2873.800Q1217 2880 1218.600 2888.200Q1219 2896 1215 2903Q1213 2893 1208.300 2885.100Q1204 2878 1198 2873.800Q1192 2870.500 1185.700 2869.700Z" fill="#86c926"/>
<path d="M1186 2876.500Q1193 2874 1199.100 2875.900L1205 2884L1191 2897.500L1187 2890Z" fill="#d6d6da"/>
<path d="M1146.600 2912.500Q1149.500 2901.500 1160 2898.300" fill="none" stroke="#c8ee1d" stroke-width="6.500" stroke-linecap="round"/>
<path d="M1162 2937L1177.500 2926L1192.900 2916.600L1213 2905.500" fill="none" stroke="#9bd01f" stroke-width="2.200"/>
<path d="M1196 2898L1208 2888" stroke="#a4dc25" stroke-width="3"/>
</g>
</svg>

<div class="t" style="left:437.8px;top:344.9px;font-size:67px;color:#212529;letter-spacing:3.77px;-webkit-text-stroke:2.3px #212529;">Morning</div>
<div class="t" style="left:318.1px;top:518.3px;font-size:35px;color:#8b909c;letter-spacing:-0.28px;-webkit-text-stroke:0.7px #8b909c;">GENERAL</div>
<div class="t" style="left:412.0px;top:632.1px;font-size:42px;color:#5f6c87;letter-spacing:-0.45px;">Dashboard</div>
<div class="t" style="left:412.0px;top:766.4px;font-size:42px;color:#5f6c87;letter-spacing:-0.75px;">Revenue Breakdown</div>
<div class="t" style="left:414.5px;top:898.8px;font-size:42px;color:#212529;letter-spacing:0.05px;-webkit-text-stroke:1.2px #212529;">Top Products</div>
<div class="t" style="left:413.5px;top:1034.2px;font-size:42px;color:#5f6c87;letter-spacing:-0.98px;">Sales by Region</div>
<div class="t" style="left:413.5px;top:1169.3px;font-size:42px;color:#5f6c87;letter-spacing:-0.89px;">Sales Team Performance</div>
<div class="t" style="left:413.3px;top:1304.4px;font-size:42px;color:#5f6c87;letter-spacing:-0.12px;">Customer Insights</div>
<div class="t" style="left:412.0px;top:1439.9px;font-size:42px;color:#5f6c87;letter-spacing:0.17px;">Reports</div>
<div class="t" style="left:413.5px;top:2708.9px;font-size:42px;color:#5f6c87;letter-spacing:0.53px;">Settings</div>
<div class="t" style="left:412.0px;top:2844.7px;font-size:42px;color:#5f6c87;letter-spacing:0.11px;">Help Center</div>
<div class="t" style="left:372.4px;top:2195.6px;font-size:41.5px;color:#5f6c87;letter-spacing:0.93px;">Achieve your full</div>
<div class="t" style="left:699.2px;top:2195.6px;font-size:41.5px;color:#a083dc;letter-spacing:-0.31px;">Sales</div>
<div class="t" style="left:369.1px;top:2258.4px;font-size:41.5px;color:#a083dc;letter-spacing:1.17px;">Performance</div>
<div class="t" style="left:627.4px;top:2258.4px;font-size:41.5px;color:#5f6c87;letter-spacing:0.83px;">succes</div>
<div class="t" style="left:450.6px;top:2437.6px;font-size:37.5px;color:#fff;letter-spacing:0.04px;-webkit-text-stroke:0.5px #fff;">Upgrade Premium</div>
<div class="t" style="left:1152.7px;top:341.8px;font-size:44px;color:#9aa8bc;letter-spacing:0.54px;">Search</div>
<div class="t" style="left:3629.3px;top:319.4px;font-size:42px;color:#2b3044;letter-spacing:-0.61px;-webkit-text-stroke:1.5px #2b3044;">Bessie Cooper</div>
<div class="t" style="left:3632.6px;top:374.9px;font-size:36px;color:#64748b;letter-spacing:0.80px;">Accounts</div>
<div class="t" style="left:1032.9px;top:552.8px;font-size:79px;color:#1f2328;letter-spacing:1.99px;-webkit-text-stroke:2.6px #1f2328;">Top Product</div>
<div class="t" style="left:1033.7px;top:663.7px;font-size:42.5px;color:#64748b;letter-spacing:0.02px;">Track your finances and achieve your financial goals</div>
<div class="t" style="left:3390.8px;top:634.0px;font-size:43px;color:#334155;letter-spacing:0.43px;-webkit-text-stroke:0.6px #334155;">Export</div>
<div class="t" style="left:3713.9px;top:634.0px;font-size:43px;color:#fff;letter-spacing:0.39px;-webkit-text-stroke:0.6px #fff;">New Report</div>
<div class="t" style="left:1269.3px;top:900.1px;font-size:48.5px;color:#1e293b;letter-spacing:-0.10px;-webkit-text-stroke:0.4px #1e293b;">Selling Product</div>
<div class="t" style="left:2012.6px;top:900.1px;font-size:48.5px;color:#1e293b;letter-spacing:0.23px;-webkit-text-stroke:0.4px #1e293b;">Top Products</div>
<div class="t" style="left:2733.5px;top:900.1px;font-size:48.5px;color:#1e293b;letter-spacing:-0.12px;-webkit-text-stroke:0.4px #1e293b;">Reorder Product</div>
<div class="t" style="left:3483.8px;top:900.1px;font-size:48.5px;color:#1e293b;letter-spacing:0.50px;-webkit-text-stroke:0.4px #1e293b;">Highest Product</div>
<div class="t" style="left:1098.8px;top:1153.6px;font-size:80px;color:#1e293b;letter-spacing:3.89px;-webkit-text-stroke:1.7px #1e293b;">2456</div>
<div class="t" style="left:1827.5px;top:1153.6px;font-size:80px;color:#1e293b;letter-spacing:-1.15px;-webkit-text-stroke:1.7px #1e293b;">1238</div>
<div class="t" style="left:2565.7px;top:1153.6px;font-size:80px;color:#1e293b;letter-spacing:-3.20px;-webkit-text-stroke:1.7px #1e293b;">3132</div>
<div class="t" style="left:3317.2px;top:1153.6px;font-size:80px;color:#1e293b;letter-spacing:3.69px;-webkit-text-stroke:1.7px #1e293b;">4345</div>
<div class="t" style="left:1445.6px;top:1168.9px;font-size:46px;color:#12a06e;letter-spacing:-0.19px;-webkit-text-stroke:0.4px #12a06e;">+2.79%</div>
<div class="t" style="left:2176.6px;top:1168.9px;font-size:46px;color:#f04438;letter-spacing:-0.28px;-webkit-text-stroke:0.4px #f04438;">-2.10%</div>
<div class="t" style="left:2927.3px;top:1168.9px;font-size:46px;color:#12a06e;letter-spacing:0.45px;-webkit-text-stroke:0.4px #12a06e;">+4.23%</div>
<div class="t" style="left:3668.4px;top:1168.9px;font-size:46px;color:#12a06e;letter-spacing:0.15px;-webkit-text-stroke:0.4px #12a06e;">+5.23%</div>
<div class="t" style="left:1099.9px;top:1460.0px;font-size:55px;color:#1e293b;letter-spacing:1.31px;-webkit-text-stroke:1.0px #1e293b;">Top 5 Best-Selling Products</div>
<div class="t" style="left:1115.9px;top:1600.8px;font-size:37.5px;color:#64748b;letter-spacing:0.37px;-webkit-text-stroke:0.3px #64748b;">Product Name</div>
<div class="t" style="left:1802.4px;top:1600.8px;font-size:37.5px;color:#64748b;letter-spacing:0.64px;-webkit-text-stroke:0.3px #64748b;">Category</div>
<div class="t" style="left:2252.4px;top:1600.8px;font-size:37.5px;color:#64748b;letter-spacing:0.66px;-webkit-text-stroke:0.3px #64748b;">Status</div>
<div class="t" style="left:2615.7px;top:1600.8px;font-size:37.5px;color:#64748b;letter-spacing:-0.26px;-webkit-text-stroke:0.3px #64748b;">Total Revenue</div>
<div class="t" style="left:3044.4px;top:1600.8px;font-size:37.5px;color:#64748b;letter-spacing:0.25px;-webkit-text-stroke:0.3px #64748b;">Product Price</div>
<div class="t" style="left:3497.7px;top:1600.8px;font-size:37.5px;color:#64748b;letter-spacing:0.26px;-webkit-text-stroke:0.3px #64748b;">Customer Rating</div>
<div class="t" style="left:1291.9px;top:1740.2px;font-size:43.5px;color:#1e293b;letter-spacing:2.19px;-webkit-text-stroke:0.4px #1e293b;">Apple</div>
<div class="t" style="left:1289.0px;top:1800.6px;font-size:36px;color:#b4bccb;letter-spacing:2.42px;-webkit-text-stroke:0.3px #b4bccb;">Macbook M2 Pro</div>
<div class="t" style="left:1771.3px;top:1766.0px;font-size:43px;color:#1e293b;letter-spacing:0.62px;-webkit-text-stroke:0.4px #1e293b;">Electronics</div>
<div class="t" style="left:2215.9px;top:1766.0px;font-size:43px;color:#1f2328;letter-spacing:-0.26px;-webkit-text-stroke:0.4px #1f2328;">Stock OK</div>
<div class="t" style="left:2638.8px;top:1766.0px;font-size:43px;color:#1e293b;letter-spacing:1.33px;-webkit-text-stroke:0.3px #1e293b;">$350,000</div>
<div class="t" style="left:3094.0px;top:1766.0px;font-size:43px;color:#1e293b;letter-spacing:-0.55px;-webkit-text-stroke:0.3px #1e293b;">$3,234</div>
<div class="t" style="left:3780.9px;top:1775.9px;font-size:43px;color:#1e293b;letter-spacing:1.55px;-webkit-text-stroke:0.3px #1e293b;">(4.8)</div>
<div class="t" style="left:1288.4px;top:2018.7px;font-size:43.5px;color:#1e293b;letter-spacing:0.92px;-webkit-text-stroke:0.4px #1e293b;">Eiger Stone</div>
<div class="t" style="left:1289.0px;top:2079.1px;font-size:36px;color:#b4bccb;letter-spacing:2.27px;-webkit-text-stroke:0.3px #b4bccb;">Bag Special Edition</div>
<div class="t" style="left:1771.3px;top:2044.5px;font-size:43px;color:#1e293b;letter-spacing:0.62px;-webkit-text-stroke:0.4px #1e293b;">Electronics</div>
<div class="t" style="left:2228.3px;top:2044.5px;font-size:43px;color:#1f2328;letter-spacing:-0.31px;-webkit-text-stroke:0.4px #1f2328;">Reorder</div>
<div class="t" style="left:2636.9px;top:2044.5px;font-size:43px;color:#1e293b;letter-spacing:1.87px;-webkit-text-stroke:0.3px #1e293b;">$280,000</div>
<div class="t" style="left:3097.3px;top:2044.5px;font-size:43px;color:#1e293b;letter-spacing:-1.72px;-webkit-text-stroke:0.3px #1e293b;">$1,189</div>
<div class="t" style="left:3756.2px;top:2043.9px;font-size:43px;color:#1e293b;letter-spacing:1.18px;-webkit-text-stroke:0.3px #1e293b;">(4.7)</div>
<div class="t" style="left:1290.0px;top:2297.2px;font-size:43.5px;color:#1e293b;letter-spacing:1.09px;-webkit-text-stroke:0.4px #1e293b;">Samsung</div>
<div class="t" style="left:1290.4px;top:2357.6px;font-size:36px;color:#b4bccb;letter-spacing:2.73px;-webkit-text-stroke:0.3px #b4bccb;">Smartwatch Ultra</div>
<div class="t" style="left:1782.2px;top:2323.0px;font-size:43px;color:#1e293b;letter-spacing:-0.84px;-webkit-text-stroke:0.4px #1e293b;">Wearables</div>
<div class="t" style="left:2232.6px;top:2323.0px;font-size:43px;color:#1f2328;letter-spacing:0.44px;-webkit-text-stroke:0.4px #1f2328;">5 Stock</div>
<div class="t" style="left:2640.9px;top:2323.0px;font-size:43px;color:#1e293b;letter-spacing:0.72px;-webkit-text-stroke:0.3px #1e293b;">$150,000</div>
<div class="t" style="left:3095.4px;top:2323.0px;font-size:43px;color:#1e293b;letter-spacing:-0.99px;-webkit-text-stroke:0.3px #1e293b;">$2.973</div>
<div class="t" style="left:3754.3px;top:2323.3px;font-size:43px;color:#1e293b;letter-spacing:1.10px;-webkit-text-stroke:0.3px #1e293b;">(4.6)</div>
<div class="t" style="left:1291.9px;top:2575.7px;font-size:43.5px;color:#1e293b;letter-spacing:2.19px;-webkit-text-stroke:0.4px #1e293b;">Apple</div>
<div class="t" style="left:1291.9px;top:2636.1px;font-size:36px;color:#b4bccb;letter-spacing:1.69px;-webkit-text-stroke:0.3px #b4bccb;">Wireless Earbuds Pro</div>
<div class="t" style="left:1825.5px;top:2601.5px;font-size:43px;color:#1e293b;letter-spacing:0.42px;-webkit-text-stroke:0.4px #1e293b;">Audio</div>
<div class="t" style="left:2215.9px;top:2601.5px;font-size:43px;color:#1f2328;letter-spacing:-0.26px;-webkit-text-stroke:0.4px #1f2328;">Stock OK</div>
<div class="t" style="left:2641.0px;top:2601.5px;font-size:43px;color:#1e293b;letter-spacing:0.70px;-webkit-text-stroke:0.3px #1e293b;">$120,000</div>
<div class="t" style="left:3097.2px;top:2601.5px;font-size:43px;color:#1e293b;letter-spacing:-1.72px;-webkit-text-stroke:0.3px #1e293b;">$1.973</div>
<div class="t" style="left:3782.3px;top:2600.1px;font-size:43px;color:#1e293b;letter-spacing:1.43px;-webkit-text-stroke:0.3px #1e293b;">(4.9)</div>
<div class="t" style="left:1288.4px;top:2854.2px;font-size:43.5px;color:#1e293b;letter-spacing:2.91px;-webkit-text-stroke:0.4px #1e293b;">Logitech</div>
<div class="t" style="left:1290.2px;top:2914.6px;font-size:36px;color:#b4bccb;letter-spacing:2.23px;-webkit-text-stroke:0.3px #b4bccb;">Gaming Mouse Elite</div>
<div class="t" style="left:1766.9px;top:2880.0px;font-size:43px;color:#1e293b;letter-spacing:-0.31px;-webkit-text-stroke:0.4px #1e293b;">Accessories</div>
<div class="t" style="left:2228.3px;top:2880.0px;font-size:43px;color:#1f2328;letter-spacing:-0.31px;-webkit-text-stroke:0.4px #1f2328;">Reorder</div>
<div class="t" style="left:2644.2px;top:2880.0px;font-size:43px;color:#1e293b;letter-spacing:0.24px;-webkit-text-stroke:0.3px #1e293b;">$110,000</div>
<div class="t" style="left:3097.2px;top:2880.0px;font-size:43px;color:#1e293b;letter-spacing:-1.72px;-webkit-text-stroke:0.3px #1e293b;">$1.173</div>
<div class="t" style="left:3754.3px;top:2879.0px;font-size:43px;color:#1e293b;letter-spacing:1.10px;-webkit-text-stroke:0.3px #1e293b;">(4.5)</div>
</div></div>
</body></html>
